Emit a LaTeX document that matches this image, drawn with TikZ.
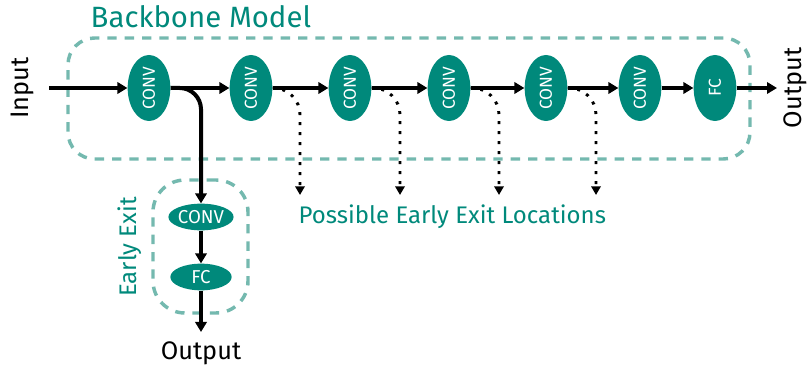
\documentclass[tikz,border=0pt]{standalone}
\usepackage{fontspec}
\setmainfont{Fira Sans}
\usepackage{graphicx}
\usetikzlibrary{shapes.geometric,arrows.meta,positioning}

\definecolor{exitgreen}{RGB}{0,137,123}
\definecolor{boxgreen}{RGB}{116,185,175}

\begin{document}
\begin{tikzpicture}[
    x=0.75pt, y=-0.75pt,
    % Stili
    layer/.style={
        ellipse, fill=exitgreen, text=white, inner sep=0pt,
        minimum width=32pt, minimum height=49.5pt,
        font=\fontsize{13}{13}\selectfont
    },
    exitlayer/.style={
        ellipse, fill=exitgreen, text=white, inner sep=0pt,
        minimum width=46pt, minimum height=20pt,
        font=\fontsize{14}{14}\selectfont
    },
    groupbox/.style={
        rectangle, draw=boxgreen, line width=2.6pt,
        dash pattern=on 7pt off 6pt, rounded corners=20pt
    },
    label/.style={font=\fontsize{19}{19}\selectfont},
    grouplabel/.style={text=exitgreen, font=\fontsize{18}{18}\selectfont},
    arrow/.style={-{Triangle[length=7.5pt,width=8.5pt]}, line width=3pt},
    maybe/.style={-{Triangle[length=6.5pt,width=7pt]}, line width=2.2pt,
        dash pattern=on 2.2pt off 5.3pt, rounded corners=20pt}
]

% cornice
\useasboundingbox (0,0) rectangle (808,370);

% Backbone
\node[groupbox, minimum width=511.5pt, minimum height=90.75pt] (backbone) at (409,98.5) {};
\node[text=exitgreen, font=\fontsize{22}{22}\selectfont, anchor=west] (backbone_lbl) at (86,17) {Backbone Model};

\node[layer] (conv1) at (149,88) {\rotatebox{90}{CONV}};
\node[layer] (conv2) at (251,88) {\rotatebox{90}{CONV}};
\node[layer] (conv3) at (350,88) {\rotatebox{90}{CONV}};
\node[layer] (conv4) at (449,88) {\rotatebox{90}{CONV}};
\node[layer] (conv5) at (546,88) {\rotatebox{90}{CONV}};
\node[layer] (conv6) at (640,88) {\rotatebox{90}{CONV}};
\node[layer] (fc) at (715,88) {\rotatebox{90}{FC}};

\node[label, rotate=90] (input) at (22,88) {Input};
\node[label, rotate=90] (output) at (795,88) {Output};
\coordinate (in_start) at (49,88);
\coordinate (out_end) at (777,88);

% Flusso principale
\draw[arrow] (in_start) -- (conv1);
\draw[arrow] (conv1) -- (conv2);
\draw[arrow] (conv2) -- (conv3);
\draw[arrow] (conv3) -- (conv4);
\draw[arrow] (conv4) -- (conv5);
\draw[arrow] (conv5) -- (conv6);
\draw[arrow] (conv6) -- (fc);
\draw[arrow] (fc) -- (out_end);

% Early exit
\node[groupbox, rounded corners=24pt, minimum width=71.25pt, minimum height=99.75pt] (exitbox) at (200.5,246.5) {};
\node[grouplabel, rotate=90] (exit_lbl) at (130,247) {Early Exit};

\node[exitlayer] (exit_conv) at (201,217) {CONV};
\node[exitlayer] (exit_fc) at (201,277) {FC};
\node[label] (exit_out) at (201,353) {Output};
\coordinate (exit_end) at (201,332);

\draw[arrow, rounded corners=16pt] (conv1.east) -| (exit_conv.north);
\draw[arrow] (exit_conv) -- (exit_fc);
\draw[arrow] (exit_fc) -- (exit_end);

% Uscite possibili
\coordinate (loc1) at (300,195);
\coordinate (loc2) at (400,195);
\coordinate (loc3) at (499,195);
\coordinate (loc4) at (596,195);
\draw[maybe] (conv2.east) -| (loc1);
\draw[maybe] (conv3.east) -| (loc2);
\draw[maybe] (conv4.east) -| (loc3);
\draw[maybe] (conv5.east) -| (loc4);

\node[grouplabel, anchor=west] (loc_lbl) at (294,217) {Possible Early Exit Locations};

\end{tikzpicture}
\end{document}
